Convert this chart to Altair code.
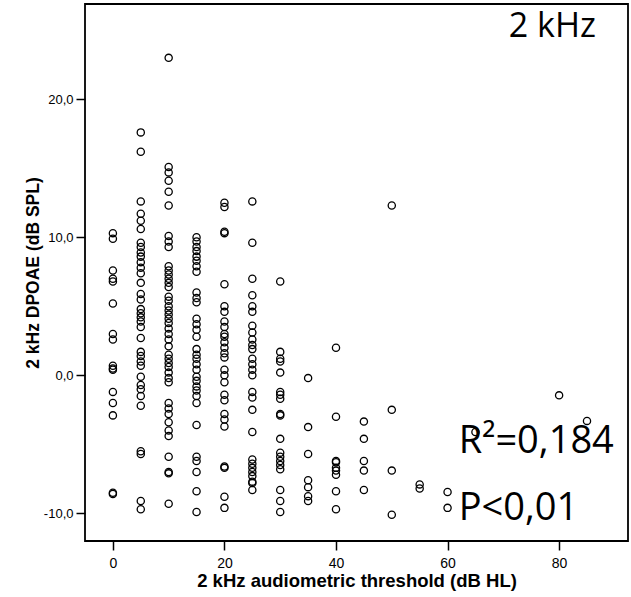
import altair as alt
import pandas as pd

# DPOAE values (dB SPL), grouped by audiometric threshold (dB HL)
dp_0 = [10.3, 9.9, 7.6, 7.0, 6.8, 5.2, 3.0, 2.6, 0.7, 0.5, 0.4, -1.2, -2.0, -2.9, -8.5, -8.6]
dp_5 = [17.6, 16.2, 12.6, 11.7, 11.2, 10.6, 9.6, 9.3, 8.9, 8.6, 8.2, 7.8, 7.4, 6.7, 5.9, 5.5,
        4.8, 4.5, 4.2, 3.9, 3.5, 2.7, 1.7, 1.4, 1.0, 0.7, -0.1, -0.7, -1.0, -1.5, -2.2,
        -5.5, -5.7, -9.1, -9.7]
dp_10 = [23.0, 15.1, 14.7, 14.1, 13.3, 12.3, 10.1, 9.7, 9.3, 7.9, 7.6, 7.3, 7.0, 6.7, 6.4,
         5.7, 5.4, 5.0, 4.7, 4.4, 4.1, 3.8, 3.4, 3.0, 2.6, 2.1, 1.5, 1.2, 0.9, 0.6, 0.2,
         -0.2, -0.5, -2.0, -2.4, -2.8, -3.4, -4.0, -4.4, -5.9, -7.0, -7.1, -9.3]
dp_15 = [10.0, 9.7, 9.3, 9.0, 8.6, 8.3, 7.9, 7.5, 6.0, 5.6, 5.3, 4.1, 3.7, 3.3, 2.8, 1.9,
         1.5, 1.2, 0.8, 0.4, -0.1, -0.4, -0.8, -1.1, -1.5, -2.0, -3.6, -5.9, -6.2, -7.0,
         -8.4, -9.9]
dp_20 = [12.5, 12.2, 10.4, 10.3, 6.6, 5.0, 4.6, 3.9, 3.5, 3.0, 2.8, 2.4, 2.0, 1.6, 1.3,
         0.4, 0.0, -0.5, -1.4, -1.8, -2.8, -3.2, -3.7, -6.6, -6.7, -8.8, -9.6]
dp_25 = [12.6, 9.6, 7.0, 5.8, 5.0, 4.6, 3.6, 3.1, 2.6, 2.2, 1.9, 1.2, 0.8, 0.4, 0.0,
         -1.2, -1.6, -2.5, -4.1, -6.1, -6.4, -6.7, -7.0, -7.3, -7.7, -7.8, -8.3]
dp_30 = [6.8, 1.7, 1.2, 1.0, 0.2, -1.2, -1.4, -1.7, -2.8, -2.9, -4.6, -5.6, -5.9, -6.2,
         -6.5, -6.8, -8.3, -9.1, -9.9]
dp_35 = [-0.2, -3.75, -5.7, -7.6, -8.1, -8.75, -9.1]
dp_40 = [2.0, -3.0, -6.2, -6.3, -6.7, -6.9, -7.2, -8.4, -9.7]
dp_45 = [-3.35, -4.6, -6.2, -6.9, -8.3]
dp_50 = [12.3, -2.5, -6.9, -10.1]
dp_55 = [-7.9, -8.2]
dp_60 = [-8.45, -9.6]
dp_65 = [-4.1]
dp_80 = [-1.45]
dp_85 = [-3.3]

thresholds = [0, 5, 10, 15, 20, 25, 30, 35, 40, 45, 50, 55, 60, 65, 80, 85]
groups = [dp_0, dp_5, dp_10, dp_15, dp_20, dp_25, dp_30, dp_35, dp_40, dp_45,
          dp_50, dp_55, dp_60, dp_65, dp_80, dp_85]

x_ticks = [0, 20, 40, 60, 80]
y_ticks = [-10, 0, 10, 20]

# annotations (text, anchor in data units)
title_text = ["2 kHz"]
title_x = [78.8]
title_y = [24.49]
stat_text = ["R²=0,184", "P<0,01"]
stat_x = [62.0, 62.0]
stat_y = [-5.6, -10.45]

rows = []
for t, vals in zip(thresholds, groups):
    for v in vals:
        rows.append({"threshold": t, "dpoae": v})
df = pd.DataFrame(rows)

df_title = pd.DataFrame({"threshold": title_x, "dpoae": title_y, "label": title_text})
df_stat = pd.DataFrame({"threshold": stat_x, "dpoae": stat_y, "label": stat_text})

points = alt.Chart(df).mark_point(
    shape="circle", filled=False, color="black", size=52, strokeWidth=1.3, opacity=1
).encode(
    x=alt.X("threshold:Q",
            scale=alt.Scale(domain=[-5, 92.35], nice=False, zero=False),
            axis=alt.Axis(values=x_ticks, title="2 kHz audiometric threshold (dB HL)",
                          labelFontSize=14, titleFontSize=18.5,
                          labelPadding=6, titlePadding=1)),
    y=alt.Y("dpoae:Q",
            scale=alt.Scale(domain=[-12, 26.9], nice=False, zero=False),
            axis=alt.Axis(values=y_ticks, title="2 kHz DPOAE (dB SPL)",
                          labelExpr="datum.value + ',0'",
                          labelFontSize=13, titleFontSize=17.5,
                          labelPadding=3, titlePadding=1)),
)

title_layer = alt.Chart(df_title).mark_text(
    align="center", baseline="alphabetic", font="Open Sans", fontSize=34, color="black"
).encode(x="threshold:Q", y="dpoae:Q", text="label:N")

stat_layer = alt.Chart(df_stat).mark_text(
    align="left", baseline="alphabetic", font="Open Sans", fontSize=38, color="black"
).encode(x="threshold:Q", y="dpoae:Q", text="label:N")

chart = alt.layer(points, title_layer, stat_layer).properties(
    width=543, height=537,
    padding={"left": 85, "top": 4, "right": 3, "bottom": 56},
    autosize=alt.AutoSizeParams(type="none"),
    background="white",
).configure_view(
    stroke="black", strokeWidth=1.8
).configure_axis(
    domain=False, grid=False, tickColor="black", tickWidth=1.5, tickSize=9,
    labelFont="Liberation Sans", labelColor="black",
    titleFont="Liberation Sans", titleFontWeight="bold", titleColor="black",
)

chart.save("out.html", embed_options={"renderer": "svg", "actions": False})
